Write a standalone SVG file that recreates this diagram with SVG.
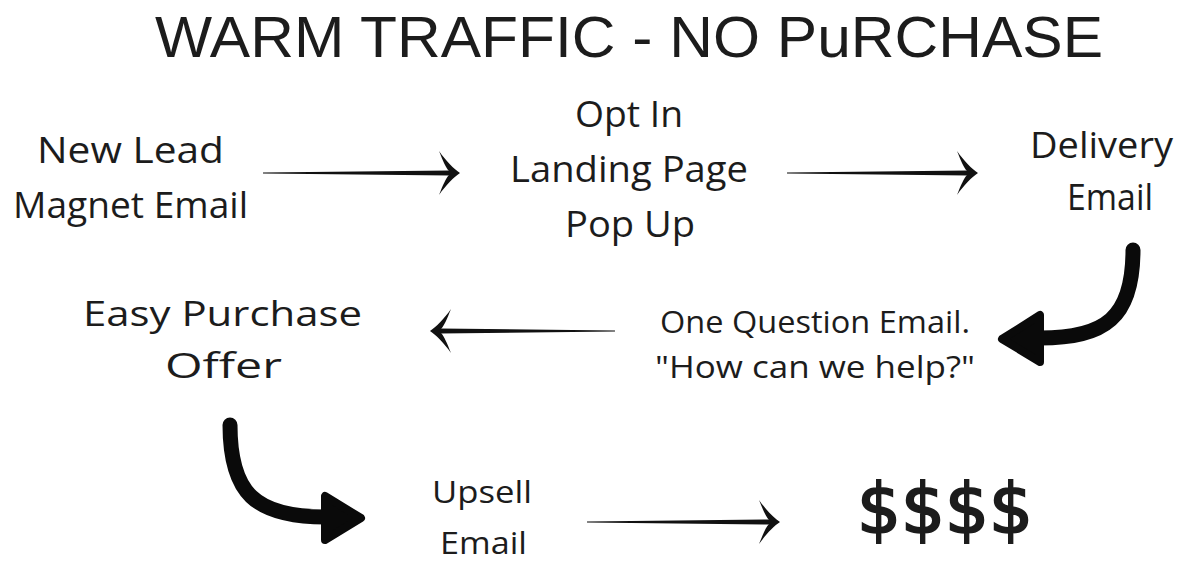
<svg xmlns="http://www.w3.org/2000/svg" width="1182" height="563" viewBox="0 0 1182 563">
<style>
  .t { font-family: "Open Sans", "Liberation Sans", sans-serif; fill: #1c1c1c; font-size: 36px; }
  .s { font-size: 31px; }
  .m { font-size: 34px; }
  .title { font-family: "Liberation Sans", "DejaVu Sans", sans-serif; fill: #1c1c1c; font-size: 58px; }
  .shaft { fill: #111; }
  .curve { fill: none; stroke: #0a0a0a; stroke-width: 15; stroke-linecap: round; }
  .bighead { fill: #0a0a0a; stroke: #0a0a0a; stroke-width: 8; stroke-linejoin: round; }
</style>
<defs>
  <path id="head" d="M0,0 C-6,-4 -14,-12 -21,-22 C-17,-12 -14,-5 -11,-2 L-11,2 C-14,5 -17,12 -21,22 C-14,12 -6,4 0,0 Z" fill="#111"/>
</defs>
<rect width="1182" height="563" fill="#ffffff"/>

<g id="title">
  <text class="title" x="155" y="57" textLength="948" lengthAdjust="spacingAndGlyphs">WARM TRAFFIC - NO PuRCHASE</text>
</g>

<g id="node-new-lead">
  <text class="t" x="37" y="163" textLength="187" lengthAdjust="spacingAndGlyphs">New Lead</text>
  <text class="t" x="13" y="218" textLength="235" lengthAdjust="spacingAndGlyphs">Magnet Email</text>
</g>

<g id="node-opt-in">
  <text class="t" x="575" y="127" textLength="108" lengthAdjust="spacingAndGlyphs">Opt In</text>
  <text class="t" x="510" y="182" textLength="238" lengthAdjust="spacingAndGlyphs">Landing Page</text>
  <text class="t" x="565" y="237" textLength="130" lengthAdjust="spacingAndGlyphs">Pop Up</text>
</g>

<g id="node-delivery">
  <text class="t" x="1030" y="158" textLength="143" lengthAdjust="spacingAndGlyphs">Delivery</text>
  <text class="t" x="1067" y="210" textLength="86" lengthAdjust="spacingAndGlyphs">Email</text>
</g>

<g id="node-one-question">
  <text class="t s" x="660" y="333" textLength="310" lengthAdjust="spacingAndGlyphs">One Question Email.</text>
  <text class="t s" x="655" y="378" textLength="320" lengthAdjust="spacingAndGlyphs">"How can we help?"</text>
</g>

<g id="node-easy-purchase">
  <text class="t m" x="83" y="326" textLength="279" lengthAdjust="spacingAndGlyphs">Easy Purchase</text>
  <text class="t m" x="165" y="378" textLength="117" lengthAdjust="spacingAndGlyphs">Offer</text>
</g>

<g id="node-upsell">
  <text class="t s" x="432" y="503" textLength="100" lengthAdjust="spacingAndGlyphs">Upsell</text>
  <text class="t s" x="440" y="554" textLength="87" lengthAdjust="spacingAndGlyphs">Email</text>
</g>

<g id="node-money">
  <text x="857" y="533" font-family="DejaVu Sans, sans-serif" font-size="70" fill="#1c1c1c" stroke="#1c1c1c" stroke-width="2" textLength="176" lengthAdjust="spacingAndGlyphs">$$$$</text>
</g>

<g id="connectors">
  <!-- New Lead -> Opt In -->
  <polygon class="shaft" points="263,172.5 450,170.5 450,175.5 263,173.5"/>
  <use href="#head" transform="translate(460,173)"/>
  <!-- Opt In -> Delivery -->
  <polygon class="shaft" points="787,172.5 968,170.5 968,175.5 787,173.5"/>
  <use href="#head" transform="translate(978,173)"/>
  <!-- Delivery -> One Question (curved) -->
  <path class="curve" d="M1133,250 C1133,318 1105,338 1040,338"/>
  <polygon class="bighead" points="1040,315 1040,362 1002,339"/>
  <!-- One Question -> Easy Purchase -->
  <polygon class="shaft" points="615,330.5 440,328.5 440,333.5 615,331.5"/>
  <use href="#head" transform="translate(430,331) scale(-1,1)"/>
  <!-- Easy Purchase -> Upsell (curved) -->
  <path class="curve" d="M230,425 C230,493 255,517 325,517"/>
  <polygon class="bighead" points="325,496 325,540 361,518"/>
  <!-- Upsell -> $$$$ -->
  <polygon class="shaft" points="587,521.5 770,519.5 770,524.5 587,522.5"/>
  <use href="#head" transform="translate(780,522)"/>
</g>
</svg>
